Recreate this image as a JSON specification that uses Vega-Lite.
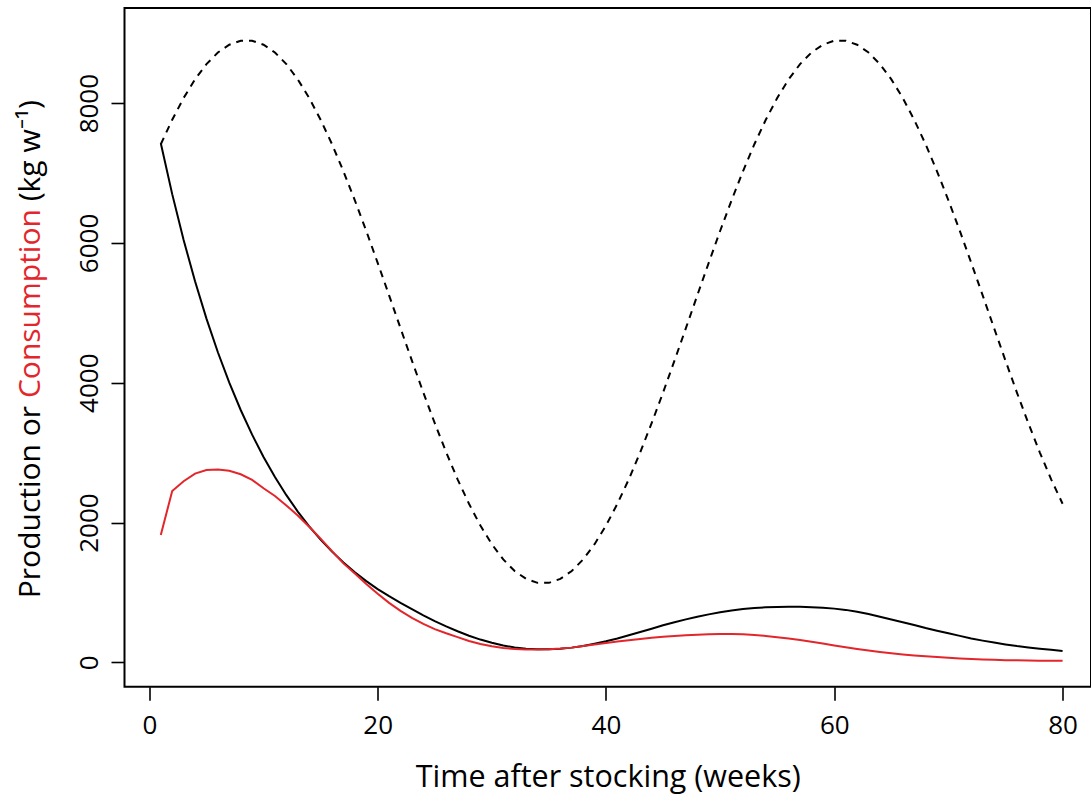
{
  "$schema": "https://vega.github.io/schema/vega-lite/v6.json",
  "autosize": {"type": "none"},
  "padding": {"left": 124.5, "top": 8, "right": 0, "bottom": 109.3},
  "width": 966.5,
  "height": 678.7,
  "background": "white",
  "config": {"view": {"stroke": "black", "strokeWidth": 2}, "font": "Open Sans"},
  "data": {"values": [
    {"w":1,"d":7412,"p":7425,"c":1821},{"w":2,"d":7762,"p":6698,"c":2451},{"w":3,"d":8074,"p":6042,"c":2590},{"w":4,"d":8340,"p":5451,"c":2700},
    {"w":5,"d":8558,"p":4917,"c":2750},{"w":6,"d":8724,"p":4436,"c":2760},{"w":7,"d":8836,"p":4002,"c":2740},{"w":8,"d":8893,"p":3610,"c":2690},
    {"w":9,"d":8893,"p":3257,"c":2610},{"w":10,"d":8836,"p":2938,"c":2490},{"w":11,"d":8724,"p":2650,"c":2380},{"w":12,"d":8558,"p":2391,"c":2245},
    {"w":13,"d":8340,"p":2157,"c":2100},{"w":14,"d":8074,"p":1946,"c":1940},{"w":15,"d":7762,"p":1755,"c":1770},{"w":16,"d":7412,"p":1583,"c":1590},
    {"w":17,"d":7025,"p":1428,"c":1415},{"w":18,"d":6609,"p":1288,"c":1270},{"w":19,"d":6171,"p":1162,"c":1120},{"w":20,"d":5715,"p":1048,"c":980},
    {"w":21,"d":5250,"p":946,"c":850},{"w":22,"d":4780,"p":850,"c":735},{"w":23,"d":4315,"p":760,"c":635},{"w":24,"d":3859,"p":672,"c":550},
    {"w":25,"d":3421,"p":590,"c":475},{"w":26,"d":3005,"p":515,"c":415},{"w":27,"d":2618,"p":445,"c":360},{"w":28,"d":2268,"p":380,"c":305},
    {"w":29,"d":1956,"p":325,"c":262},{"w":30,"d":1690,"p":280,"c":230},{"w":31,"d":1472,"p":240,"c":205},{"w":32,"d":1306,"p":212,"c":190},
    {"w":33,"d":1194,"p":195,"c":184},{"w":34,"d":1137,"p":186,"c":184},{"w":35,"d":1137,"p":187,"c":188},{"w":36,"d":1194,"p":195,"c":196},
    {"w":37,"d":1306,"p":210,"c":210},{"w":38,"d":1472,"p":232,"c":232},{"w":39,"d":1690,"p":266,"c":255},{"w":40,"d":1956,"p":300,"c":276},
    {"w":41,"d":2268,"p":340,"c":297},{"w":42,"d":2618,"p":386,"c":317},{"w":43,"d":3005,"p":433,"c":335},{"w":44,"d":3421,"p":481,"c":352},
    {"w":45,"d":3859,"p":529,"c":366},{"w":46,"d":4315,"p":572,"c":377},{"w":47,"d":4780,"p":614,"c":387},{"w":48,"d":5250,"p":652,"c":394},
    {"w":49,"d":5715,"p":686,"c":400},{"w":50,"d":6171,"p":715,"c":404},{"w":51,"d":6609,"p":742,"c":404},{"w":52,"d":7025,"p":762,"c":400},
    {"w":53,"d":7412,"p":777,"c":392},{"w":54,"d":7762,"p":787,"c":378},{"w":55,"d":8074,"p":793,"c":360},{"w":56,"d":8340,"p":795,"c":340},
    {"w":57,"d":8558,"p":794,"c":318},{"w":58,"d":8724,"p":788,"c":294},{"w":59,"d":8836,"p":780,"c":268},{"w":60,"d":8893,"p":768,"c":240},
    {"w":61,"d":8893,"p":750,"c":215},{"w":62,"d":8836,"p":724,"c":191},{"w":63,"d":8724,"p":690,"c":168},{"w":64,"d":8558,"p":651,"c":147},
    {"w":65,"d":8340,"p":612,"c":129},{"w":66,"d":8074,"p":573,"c":113},{"w":67,"d":7762,"p":534,"c":99},{"w":68,"d":7412,"p":490,"c":87},
    {"w":69,"d":7025,"p":452,"c":76},{"w":70,"d":6609,"p":415,"c":64},{"w":71,"d":6171,"p":378,"c":55},{"w":72,"d":5715,"p":340,"c":47},
    {"w":73,"d":5250,"p":310,"c":40},{"w":74,"d":4780,"p":282,"c":35},{"w":75,"d":4315,"p":256,"c":31},{"w":76,"d":3859,"p":232,"c":28},
    {"w":77,"d":3421,"p":212,"c":26},{"w":78,"d":3005,"p":195,"c":24},{"w":79,"d":2618,"p":178,"c":23},{"w":80,"d":2268,"p":162,"c":22}
  ]},
  "encoding": {
    "x": {
      "field": "w", "type": "quantitative",
      "scale": {"domain": [-2.18, 82.49], "nice": false, "zero": false},
      "axis": {
        "values": [0, 20, 40, 60, 80], "format": "d", "domain": false, "grid": false,
        "tickSize": 13.5, "tickWidth": 1.6, "tickColor": "black",
        "labelFontSize": 26, "labelFont": "Open Sans", "labelColor": "black", "labelPadding": 12, "labelFlush": false, "labelOverlap": false,
        "title": "Time after stocking (weeks)", "titleFont": "Open Sans", "titleFontSize": 30.5, "titleFontWeight": "normal", "titleColor": "black",
        "titleBaseline": "alphabetic", "titleAlign": "center", "titleY": 100
      }
    }
  },
  "layer": [
    {
      "mark": {"type": "line", "color": "black", "strokeWidth": 2, "strokeDash": [7, 6]},
      "encoding": {
        "y": {
          "field": "d", "type": "quantitative",
          "scale": {"domain": [-349, 9361], "nice": false, "zero": false},
          "axis": {
            "orient": "left", "values": [0, 2000, 4000, 6000, 8000], "format": "d", "domain": false, "grid": false,
            "tickSize": 13.5, "tickWidth": 1.6, "tickColor": "black",
            "labelFontSize": 26, "labelFont": "Open Sans", "labelColor": "black", "labelAngle": 270, "labelAlign": "center", "labelBaseline": "middle",
            "labelPadding": 22, "labelFlush": false, "labelOverlap": false,
            "title": "Production or", "titleFont": "Open Sans", "titleFontSize": 30, "titleFontWeight": "normal", "titleColor": "black",
            "titleAngle": 270, "titleAlign": "right", "titleBaseline": "middle", "titleX": -94.5, "titleY": 397.4
          }
        }
      }
    },
    {
      "mark": {"type": "line", "color": "black", "strokeWidth": 2},
      "encoding": {
        "y": {
          "field": "p", "type": "quantitative",
          "scale": {"domain": [-349, 9361], "nice": false, "zero": false},
          "axis": {
            "orient": "left", "domain": false, "grid": false, "ticks": false, "labels": false,
            "title": "Consumption", "titleFont": "Open Sans", "titleFontSize": 30, "titleFontWeight": "normal", "titleColor": "#e3262b",
            "titleAngle": 270, "titleAlign": "center", "titleBaseline": "middle", "titleX": -94.5, "titleY": 295.1
          }
        }
      }
    },
    {
      "mark": {"type": "line", "color": "#e3262b", "strokeWidth": 2},
      "encoding": {
        "y": {
          "field": "c", "type": "quantitative",
          "scale": {"domain": [-349, 9361], "nice": false, "zero": false},
          "axis": {
            "orient": "left", "domain": false, "grid": false, "ticks": false, "labels": false,
            "title": "(kg w⁻¹)", "titleFont": "Open Sans", "titleFontSize": 30, "titleFontWeight": "normal", "titleColor": "black",
            "titleAngle": 270, "titleAlign": "left", "titleBaseline": "middle", "titleX": -94.5, "titleY": 192.8
          }
        }
      }
    }
  ],
  "resolve": {"scale": {"y": "independent"}}
}
